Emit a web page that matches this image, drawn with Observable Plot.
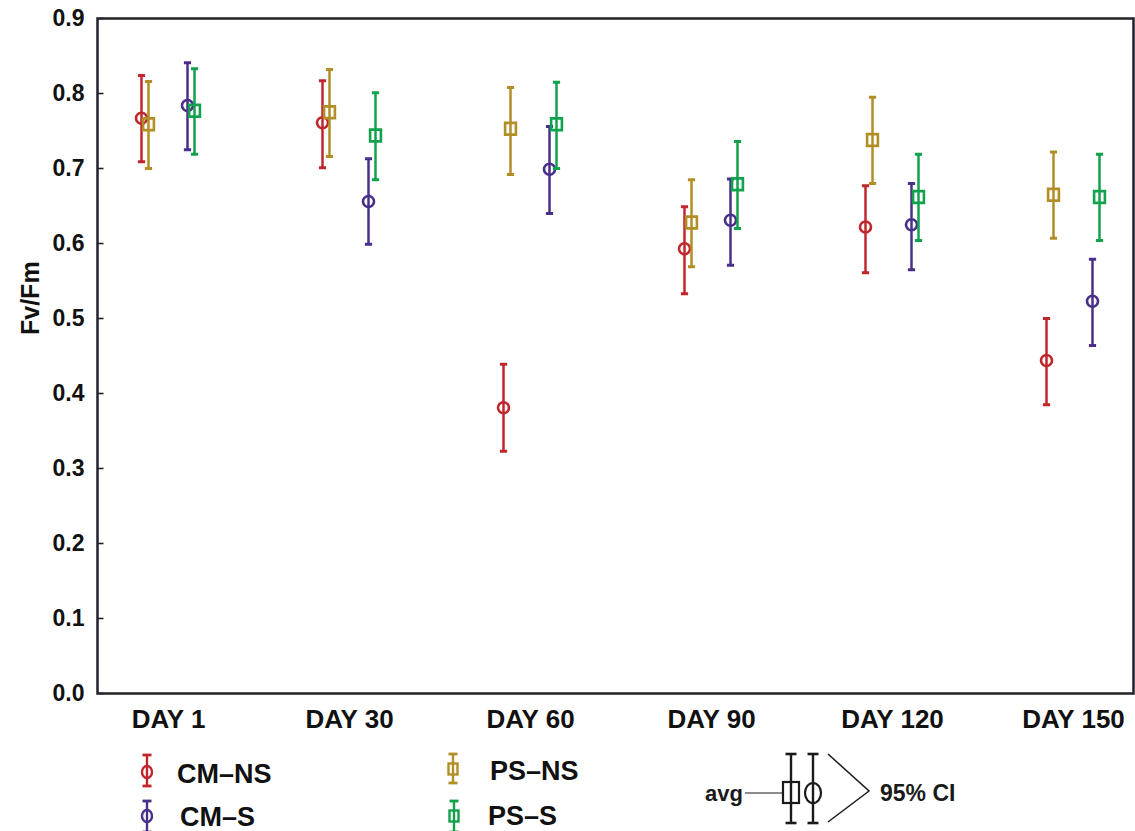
<!DOCTYPE html>
<html>
<head>
<meta charset="utf-8">
<script src="https://cdn.jsdelivr.net/npm/d3@7"></script>
<script src="https://cdn.jsdelivr.net/npm/@observablehq/plot@0.6"></script>
<style>
  html, body { margin: 0; padding: 0; background: #fff; }
  #wrap { width: 1135px; height: 831px; overflow: hidden; font-family: "Liberation Sans", Arial, sans-serif; }
  #wrap svg { display: block; }
</style>
</head>
<body>
<div id="wrap"></div>
<script>
// ---- data ----
const days = ["DAY 1", "DAY 30", "DAY 60", "DAY 90", "DAY 120", "DAY 150"];
const seriesNames = ["CM\u2013NS", "CM\u2013S", "PS\u2013NS", "PS\u2013S"];

const cmNS_avg = [0.767, 0.761, 0.381, 0.593, 0.622, 0.444];
const cmNS_lo  = [0.709, 0.701, 0.323, 0.533, 0.561, 0.385];
const cmNS_hi  = [0.824, 0.817, 0.439, 0.649, 0.677, 0.500];

const cmS_avg = [0.784, 0.656, 0.699, 0.631, 0.625, 0.523];
const cmS_lo  = [0.725, 0.599, 0.640, 0.571, 0.565, 0.464];
const cmS_hi  = [0.841, 0.713, 0.756, 0.686, 0.680, 0.579];

const psNS_avg = [0.759, 0.775, 0.753, 0.628, 0.738, 0.665];
const psNS_lo  = [0.700, 0.716, 0.692, 0.569, 0.680, 0.607];
const psNS_hi  = [0.816, 0.832, 0.808, 0.685, 0.795, 0.722];

const psS_avg = [0.777, 0.744, 0.759, 0.679, 0.662, 0.662];
const psS_lo  = [0.719, 0.685, 0.700, 0.620, 0.604, 0.604];
const psS_hi  = [0.833, 0.801, 0.815, 0.736, 0.719, 0.719];

const yTicks = [0, 0.1, 0.2, 0.3, 0.4, 0.5, 0.6, 0.7, 0.8, 0.9];

// ---- styles ----
const colors = {"CM\u2013NS": "#c0272d", "CM\u2013S": "#4a2f8a", "PS\u2013NS": "#b28e27", "PS\u2013S": "#12a14c"};
const offsets = {"CM\u2013NS": -27, "PS\u2013NS": -20, "CM\u2013S": 19, "PS\u2013S": 26};

const circleSym = { draw(ctx) { ctx.moveTo(5.5, 0); ctx.arc(0, 0, 5.5, 0, 2 * Math.PI); } };
const squareSym = { draw(ctx) { ctx.rect(-5.4, -5.9, 10.8, 11.8); } };
const capSym = { draw(ctx) { ctx.moveTo(-3.6, 0); ctx.lineTo(3.6, 0); } };
const tickSym = { draw(ctx) { ctx.moveTo(0, 0); ctx.lineTo(6, 0); } };

const seriesData = [
  {name: seriesNames[0], avg: cmNS_avg, lo: cmNS_lo, hi: cmNS_hi, sym: circleSym},
  {name: seriesNames[1], avg: cmS_avg, lo: cmS_lo, hi: cmS_hi, sym: circleSym},
  {name: seriesNames[2], avg: psNS_avg, lo: psNS_lo, hi: psNS_hi, sym: squareSym},
  {name: seriesNames[3], avg: psS_avg, lo: psS_lo, hi: psS_hi, sym: squareSym}
];

const marks = [];
for (const s of seriesData) {
  const rows = days.map((d, i) => ({day: d, avg: s.avg[i], lo: s.lo[i], hi: s.hi[i]}));
  const c = colors[s.name], dx = offsets[s.name];
  marks.push(Plot.ruleX(rows, {x: "day", y1: "lo", y2: "hi", stroke: c, strokeWidth: 2.5, dx}));
  marks.push(Plot.dot(rows, {x: "day", y: "lo", symbol: capSym, stroke: c, strokeWidth: 3, fill: "none", dx}));
  marks.push(Plot.dot(rows, {x: "day", y: "hi", symbol: capSym, stroke: c, strokeWidth: 3, fill: "none", dx}));
  marks.push(Plot.dot(rows, {x: "day", y: "avg", symbol: s.sym, stroke: c, strokeWidth: 2.6, fill: "none", dx}));
}

const chart = Plot.plot({
  width: 1135,
  height: 745,
  marginLeft: 97,
  marginRight: 2,
  marginTop: 18,
  marginBottom: 52,
  style: {fontFamily: "Liberation Sans, Arial, sans-serif", color: "#111", background: "#fff", overflow: "visible"},
  x: {type: "point", domain: days, range: [167, 1073], padding: 0},
  y: {domain: [0, 0.9]},
  marks: [
    Plot.axisX({tickSize: 0, tickPadding: 16, fontSize: 26, fontWeight: "bold", fill: "#111", label: null}),
    Plot.axisY(yTicks, {tickSize: 0, tickPadding: 13, fontSize: 23, fontWeight: "bold", fill: "#111", tickFormat: d3.format(".1f"), label: null}),
    Plot.dot(yTicks, {y: d => d, frameAnchor: "left", symbol: tickSym, stroke: "#222", strokeWidth: 1.6}),
    Plot.text(["Fv/Fm"], {frameAnchor: "left", dx: -67, dy: -21, rotate: -90, fontSize: 25, fontWeight: "bold", fill: "#111"}),
    ...marks,
    Plot.frame({stroke: "#22222c", strokeWidth: 2.5})
  ]
});
document.getElementById("wrap").appendChild(chart);

// ---- legend below the chart ----
const L = d3.select("#wrap").append("svg").attr("width", 1135).attr("height", 86)
  .style("font-family", "Liberation Sans, Arial, sans-serif");

function errSym(g, x, yTop, yBot, yMid, color, kind, sw) {
  g.append("line").attr("x1", x).attr("x2", x).attr("y1", yTop).attr("y2", yBot).attr("stroke", color).attr("stroke-width", sw);
  for (const y of [yTop, yBot]) g.append("line").attr("x1", x - 4.5).attr("x2", x + 4.5).attr("y1", y).attr("y2", y).attr("stroke", color).attr("stroke-width", 2.8);
  if (kind === "circle") g.append("ellipse").attr("cx", x).attr("cy", yMid).attr("rx", 5).attr("ry", 6).attr("fill", "none").attr("stroke", color).attr("stroke-width", sw);
  else g.append("rect").attr("x", x - 4.5).attr("y", yMid - 5.5).attr("width", 9).attr("height", 11).attr("fill", "none").attr("stroke", color).attr("stroke-width", sw);
}
const legendItems = [
  {name: seriesNames[0], x: 147, tx: 177, top: 10, bot: 41, mid: 27, ty: 28, kind: "circle"},
  {name: seriesNames[1], x: 147, tx: 180, top: 56, bot: 87, mid: 71, ty: 71, kind: "circle"},
  {name: seriesNames[2], x: 453, tx: 490, top: 9, bot: 38, mid: 24, ty: 25, kind: "square"},
  {name: seriesNames[3], x: 454, tx: 488, top: 56, bot: 87, mid: 71, ty: 70, kind: "square"}
];
for (const it of legendItems) {
  errSym(L, it.x, it.top, it.bot, it.mid, colors[it.name], it.kind, 2.4);
  L.append("text").attr("x", it.tx).attr("y", it.ty).attr("dy", "0.36em").attr("font-size", 27).attr("font-weight", "bold").attr("fill", "#111").text(it.name);
}
// avg / 95% CI key
const k = "#1a1a1a";
L.append("text").attr("x", 743).attr("y", 48).attr("dy", "0.36em").attr("text-anchor", "end").attr("font-size", 22).attr("font-weight", "bold").attr("fill", k).text("avg");
L.append("line").attr("x1", 745).attr("x2", 783).attr("y1", 48).attr("y2", 48).attr("stroke", "#666").attr("stroke-width", 1.3);
L.append("line").attr("x1", 791).attr("x2", 791).attr("y1", 9).attr("y2", 78).attr("stroke", k).attr("stroke-width", 2.4);
for (const y of [9, 78]) L.append("line").attr("x1", 785.5).attr("x2", 796.5).attr("y1", y).attr("y2", y).attr("stroke", k).attr("stroke-width", 2.6);
L.append("rect").attr("x", 783).attr("y", 37).attr("width", 16).attr("height", 21).attr("fill", "none").attr("stroke", k).attr("stroke-width", 2.2);
L.append("line").attr("x1", 813).attr("x2", 813).attr("y1", 9).attr("y2", 78).attr("stroke", k).attr("stroke-width", 2.4);
for (const y of [9, 78]) L.append("line").attr("x1", 807.5).attr("x2", 818.5).attr("y1", y).attr("y2", y).attr("stroke", k).attr("stroke-width", 2.6);
L.append("ellipse").attr("cx", 813).attr("cy", 48).attr("rx", 8).attr("ry", 10).attr("fill", "none").attr("stroke", k).attr("stroke-width", 2.2);
L.append("polyline").attr("points", "828,9 869,46 828,77").attr("fill", "none").attr("stroke", k).attr("stroke-width", 1.5);
L.append("text").attr("x", 880).attr("y", 48).attr("dy", "0.36em").attr("font-size", 23).attr("font-weight", "bold").attr("fill", k).text("95% CI");
</script>
</body>
</html>
